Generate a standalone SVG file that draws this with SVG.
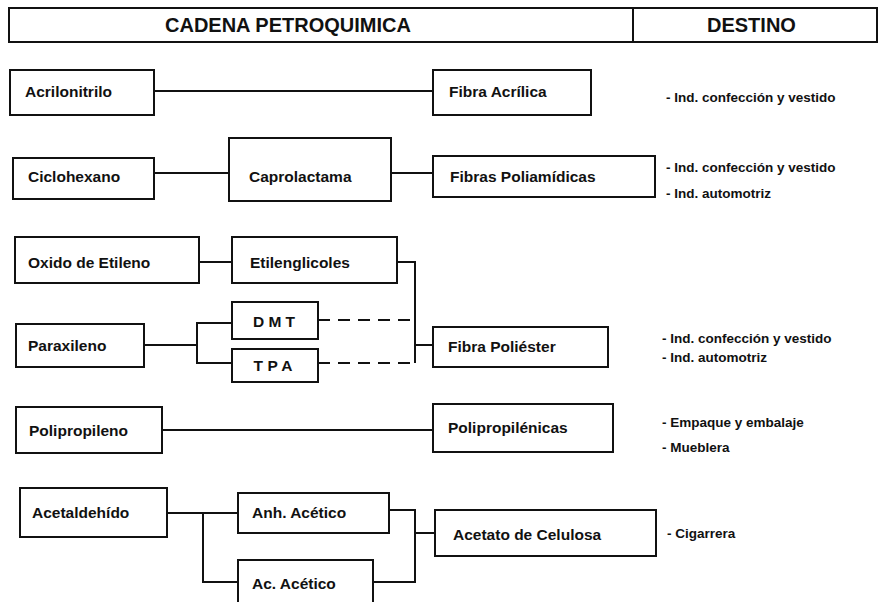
<svg xmlns="http://www.w3.org/2000/svg" width="879" height="602" viewBox="0 0 879 602">
<style>
.box{fill:#fff;stroke:#111;stroke-width:2}
.t{font-family:"Liberation Sans",Arial,sans-serif;font-weight:bold;font-size:15.5px;fill:#111}
.h{font-family:"Liberation Sans",Arial,sans-serif;font-weight:bold;font-size:20px;fill:#111}
.d{font-family:"Liberation Sans",Arial,sans-serif;font-weight:bold;font-size:13.5px;fill:#111}
.ln{fill:none;stroke:#111;stroke-width:2}
.dash{fill:none;stroke:#111;stroke-width:2;stroke-dasharray:12 8}
</style>
<rect width="879" height="602" fill="#fff"/>
<g id="header">
<rect class="box" x="9" y="8" width="868" height="34"/>
<line class="ln" x1="633" y1="8" x2="633" y2="42"/>
<text class="h" x="165" y="32">CADENA PETROQUIMICA</text>
<text class="h" x="707" y="32">DESTINO</text>
</g>
<g id="connectors">
<path class="ln" d="M154,91 H433"/>
<path class="ln" d="M154,173 H229 M391,173 H433"/>
<path class="ln" d="M199,262 H232 M397,262 H415 V363"/>
<path class="ln" d="M144,345 H197 M232,323 H197 V363 H232 M415,345 H433"/>
<path class="dash" d="M318,320 H415 M318,363 H415"/>
<path class="ln" d="M162,430 H433"/>
<path class="ln" d="M167,513 H238 M203,513 V582 H238 M389,510 H415 V582 H373 M415,533 H435"/>
</g>
<g id="acrilonitrilo"><rect class="box" x="10" y="70" width="144" height="45"/><text class="t" x="25" y="97">Acrilonitrilo</text></g>
<g id="fibra-acrilica"><rect class="box" x="433" y="70" width="158" height="45"/><text class="t" x="449" y="97">Fibra Acrílica</text></g>
<g id="ciclohexano"><rect class="box" x="13" y="158" width="141" height="41"/><text class="t" x="28" y="182">Ciclohexano</text></g>
<g id="caprolactama"><rect class="box" x="229" y="138" width="162" height="63"/><text class="t" x="249" y="182">Caprolactama</text></g>
<g id="fibras-poliamidicas"><rect class="box" x="433" y="156" width="222" height="41"/><text class="t" x="450" y="182">Fibras Poliamídicas</text></g>
<g id="oxido-etileno"><rect class="box" x="15" y="237" width="184" height="46"/><text class="t" x="28" y="268">Oxido de Etileno</text></g>
<g id="etilenglicoles"><rect class="box" x="232" y="237" width="165" height="46"/><text class="t" x="250" y="268">Etilenglicoles</text></g>
<g id="dmt"><rect class="box" x="232" y="302" width="86" height="37"/><text class="t" x="274" y="327" text-anchor="middle">D M T</text></g>
<g id="tpa"><rect class="box" x="232" y="349" width="86" height="33"/><text class="t" x="273" y="371" text-anchor="middle">T P A</text></g>
<g id="paraxileno"><rect class="box" x="16" y="324" width="128" height="43"/><text class="t" x="28" y="351">Paraxileno</text></g>
<g id="fibra-poliester"><rect class="box" x="433" y="327" width="175" height="40"/><text class="t" x="448" y="352">Fibra Poliéster</text></g>
<g id="polipropileno"><rect class="box" x="16" y="407" width="146" height="46"/><text class="t" x="29" y="436">Polipropileno</text></g>
<g id="polipropilenicas"><rect class="box" x="433" y="404" width="180" height="48"/><text class="t" x="448" y="433">Polipropilénicas</text></g>
<g id="acetaldehido"><rect class="box" x="20" y="488" width="147" height="49"/><text class="t" x="32" y="518">Acetaldehído</text></g>
<g id="anh-acetico"><rect class="box" x="238" y="493" width="151" height="40"/><text class="t" x="252" y="518">Anh. Acético</text></g>
<g id="ac-acetico"><rect class="box" x="238" y="560" width="135" height="60"/><text class="t" x="252" y="589">Ac. Acético</text></g>
<g id="acetato-celulosa"><rect class="box" x="435" y="510" width="221" height="46"/><text class="t" x="453" y="540">Acetato de Celulosa</text></g>
<g id="destinos">
<text class="d" x="666" y="102">- Ind. confección y vestido</text>
<text class="d" x="666" y="172">- Ind. confección y vestido</text>
<text class="d" x="666" y="198">- Ind. automotriz</text>
<text class="d" x="662" y="343">- Ind. confección y vestido</text>
<text class="d" x="662" y="362">- Ind. automotriz</text>
<text class="d" x="662" y="427">- Empaque y embalaje</text>
<text class="d" x="662" y="452">- Mueblera</text>
<text class="d" x="667" y="538">- Cigarrera</text>
</g>
</svg>
